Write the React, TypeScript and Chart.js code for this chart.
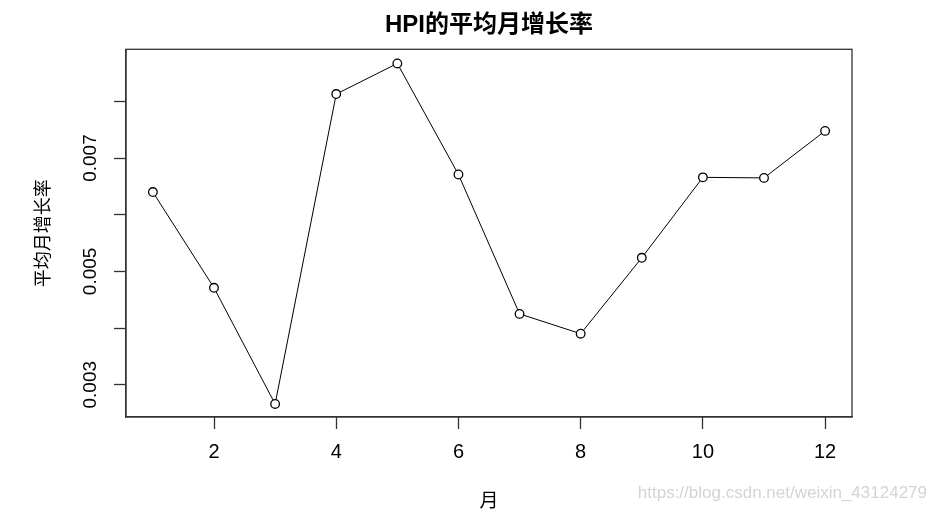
import { useEffect, useRef } from "react";
import { Chart, registerables } from "chart.js";

Chart.register(...registerables);

// months on the x axis
const months = [1, 2, 3, 4, 5, 6, 7, 8, 9, 10, 11, 12];
// average monthly HPI growth rate
const growthRates = [
  0.0064, 0.00471, 0.00266, 0.00813, 0.00867, 0.00671, 0.00425, 0.0039,
  0.00524, 0.00666, 0.00665, 0.00748,
];
// y ticks that carry a label (the others are drawn as bare ticks, as R drops them)
const labelledYTicks = [0.003, 0.005, 0.007];

const TITLE = "HPI的平均月增长率";
const X_TITLE = "月";
const Y_TITLE = "平均月增长率";
const WATERMARK = "https://blog.csdn.net/weixin_43124279";

const SANS = "'Liberation Sans', Arial, 'Noto Sans CJK SC', sans-serif";
const CJK = "'Liberation Sans', 'Noto Sans CJK SC', sans-serif";

// frame around the plot region + the csdn watermark
const framePlugin = {
  id: "frame",
  afterDraw(chart: Chart) {
    const { ctx, chartArea } = chart;
    ctx.save();
    ctx.strokeStyle = "#333";
    ctx.lineWidth = 1.3;
    ctx.strokeRect(
      chartArea.left,
      chartArea.top,
      chartArea.right - chartArea.left,
      chartArea.bottom - chartArea.top
    );
    ctx.fillStyle = "#d4d4d4";
    ctx.font = "17px 'Liberation Sans Narrow', 'Liberation Sans', sans-serif";
    ctx.textAlign = "right";
    ctx.textBaseline = "middle";
    ctx.fillText(WATERMARK, 927, 493);
    ctx.restore();
  },
};

const App = () => {
  const chartRef = useRef<HTMLCanvasElement | null>(null);

  useEffect(() => {
    if (!chartRef.current) return;
    const ctx = chartRef.current.getContext("2d");
    if (!ctx) return;

    const chart = new Chart(ctx, {
      type: "line",
      data: {
        datasets: [
          {
            data: months.map((m, i) => ({ x: m, y: growthRates[i] })),
            borderColor: "#000",
            borderWidth: 1,
            pointRadius: 4.3,
            pointBorderWidth: 1.3,
            pointBackgroundColor: "#fff",
            pointBorderColor: "#000",
            tension: 0,
          },
        ],
      },
      options: {
        animation: false,
        responsive: true,
        maintainAspectRatio: false,
        layout: { padding: { left: 0, right: 86, top: 0, bottom: 0 } },
        plugins: {
          legend: { display: false },
          tooltip: { enabled: false },
          title: {
            display: true,
            text: TITLE,
            fullSize: false,
            color: "#000",
            font: { family: CJK, size: 24, weight: "bold", lineHeight: 1.2 },
            padding: { top: 11, bottom: 9.5 },
          },
        },
        scales: {
          x: {
            type: "linear",
            min: 0.56,
            max: 12.44,
            afterFit: (scale) => {
              scale.height = 95;
            },
            ticks: {
              stepSize: 2,
              includeBounds: false,
              color: "#000",
              padding: 11,
              maxRotation: 0,
              font: { family: SANS, size: 20 },
            },
            grid: {
              drawOnChartArea: false,
              drawTicks: true,
              tickLength: 12,
              tickColor: "#333",
              tickWidth: 1.3,
            },
            border: { display: true, color: "#333", width: 1.3 },
            title: {
              display: true,
              text: X_TITLE,
              color: "#000",
              font: { family: CJK, size: 19, lineHeight: 1 },
              padding: { top: 0, bottom: 1 },
            },
          },
          y: {
            type: "linear",
            min: 0.00243,
            max: 0.00892,
            afterFit: (scale) => {
              scale.width = 126;
            },
            ticks: {
              stepSize: 0.001,
              includeBounds: false,
              color: "#000",
              padding: -1,
              minRotation: 90,
              maxRotation: 90,
              crossAlign: "center",
              font: { family: SANS, size: 19 },
              callback: (value) => {
                const v = Number(value);
                return labelledYTicks.some((t) => Math.abs(t - v) < 1e-9)
                  ? v.toFixed(3)
                  : "";
              },
            },
            grid: {
              drawOnChartArea: false,
              drawTicks: true,
              tickLength: 12,
              tickColor: "#333",
              tickWidth: 1.3,
            },
            border: { display: true, color: "#333", width: 1.3 },
            title: {
              display: true,
              text: Y_TITLE,
              color: "#000",
              font: { family: CJK, size: 18, lineHeight: 1 },
              padding: { top: 35, bottom: 0 },
            },
          },
        },
      },
      plugins: [framePlugin],
    });

    return () => {
      chart.destroy();
    };
  }, []);

  return (
    <div
      style={{
        position: "fixed",
        left: 0,
        top: 0,
        width: 938,
        height: 512,
        background: "#fff",
      }}
    >
      <canvas ref={chartRef}></canvas>
    </div>
  );
};

export default App;
